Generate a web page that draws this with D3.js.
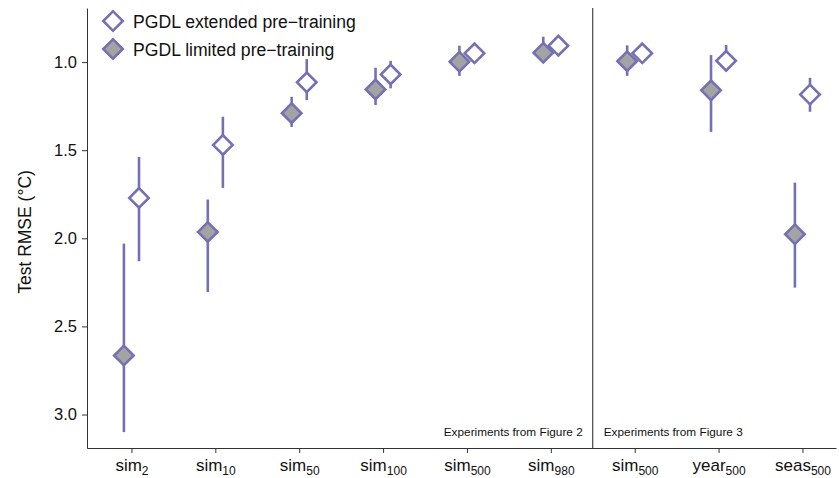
<!DOCTYPE html>
<html><head><meta charset="utf-8">
<script src="https://cdn.jsdelivr.net/npm/d3@7"></script>
<style>body{margin:0;background:#fff}text{font-family:"Liberation Sans",Arial,sans-serif}</style>
</head><body><svg id="c" width="839" height="478"></svg>
<script>
const catBase = ["sim","sim","sim","sim","sim","sim","sim","year","seas"];
const catSub = ["2","10","50","100","500","980","500","500","500"];
const limitedMean = [2.665,1.964,1.29,1.155,0.998,0.947,0.995,1.16,1.977];
const limitedLo =   [2.03,1.78,1.197,1.032,0.907,0.856,0.905,0.96,1.684];
const limitedHi =   [3.10,2.305,1.368,1.244,1.078,0.997,1.078,1.396,2.28];
const extendedMean = [1.771,1.47,1.115,1.07,0.95,0.907,0.95,0.993,1.184];
const extendedLo =   [1.538,1.31,0.983,0.993,0.915,0.86,0.915,0.903,1.089];
const extendedHi =   [2.13,1.714,1.216,1.149,0.99,0.966,0.99,1.05,1.282];
const yTicks = [1.0,1.5,2.0,2.5,3.0];
const seriesNames = ["PGDL extended pre\u2212training","PGDL limited pre\u2212training"];

const col = "#7570b3", fillG = "#a3a3a3";
const svg = d3.select("#c");
const x = d3.scaleLinear().domain([-0.53, 8.4]).range([87, 836]);
const y = d3.scaleLinear().domain([0.693, 3.19]).range([8, 448]);
const off = 0.09;

// axes
const yAx = svg.append("g").attr("transform","translate(87,0)")
  .call(d3.axisLeft(y).tickValues(yTicks).tickFormat(d3.format(".1f")).tickSize(5).tickSizeOuter(0));
yAx.selectAll("text").attr("font-size",16.5).attr("fill","#111").attr("dx","-2");
yAx.select(".domain").attr("stroke","#333");
yAx.selectAll(".tick line").attr("stroke","#333");

const xAx = svg.append("g").attr("transform","translate(0,448)")
  .call(d3.axisBottom(x).tickValues(d3.range(9)).tickFormat("").tickSize(5).tickSizeOuter(0));
xAx.select(".domain").attr("stroke","#333");
xAx.selectAll(".tick line").attr("stroke","#333");
xAx.selectAll(".tick").append("text")
  .attr("y", 23).attr("text-anchor","middle").attr("fill","#111").attr("font-size",17)
  .each(function(d){
    const t = d3.select(this);
    t.append("tspan").text(catBase[d]);
    t.append("tspan").attr("font-size",12).attr("dy",4).text(catSub[d]);
  });

// divider
svg.append("line").attr("x1",x(5.5)).attr("x2",x(5.5)).attr("y1",8).attr("y2",448)
  .attr("stroke","#222").attr("stroke-width",1);

svg.append("text").attr("x",x(5.5)-10).attr("y",436).attr("text-anchor","end")
  .attr("font-size",11.8).attr("fill","#111").text("Experiments from Figure 2");
svg.append("text").attr("x",x(5.5)+11).attr("y",436).attr("text-anchor","start")
  .attr("font-size",11.8).attr("fill","#111").text("Experiments from Figure 3");

// y label
svg.append("text").attr("transform","translate(31,232) rotate(-90)").attr("text-anchor","middle")
  .attr("font-size",17.5).attr("fill","#111").text("Test RMSE (\u00b0C)");

const diamond = d3.symbol().type(d3.symbolSquare).size(190);

function drawSeries(mean, lo, hi, dx, fill){
  const g = svg.append("g");
  g.selectAll("line").data(mean).join("line")
    .attr("x1",(d,i)=>x(i+dx)).attr("x2",(d,i)=>x(i+dx))
    .attr("y1",(d,i)=>y(lo[i])).attr("y2",(d,i)=>y(hi[i]))
    .attr("stroke",col).attr("stroke-width",2.6);
  g.selectAll("path").data(mean).join("path")
    .attr("d",diamond)
    .attr("transform",(d,i)=>`translate(${x(i+dx)},${y(d)}) rotate(45)`)
    .attr("fill",fill).attr("stroke",col).attr("stroke-width",2.6);
}
drawSeries(limitedMean, limitedLo, limitedHi, -off, fillG);
drawSeries(extendedMean, extendedLo, extendedHi, off, "#fff");

// legend
const leg = svg.append("g");
[["#fff",21],[fillG,49]].forEach((s,i)=>{
  leg.append("path").attr("d",diamond).attr("transform",`translate(113,${s[1]}) rotate(45)`)
    .attr("fill",s[0]).attr("stroke",col).attr("stroke-width",2.6);
  leg.append("text").attr("x",133).attr("y",s[1]+6.5).attr("font-size",17.6).attr("fill","#111").text(seriesNames[i]);
});
</script></body></html>
